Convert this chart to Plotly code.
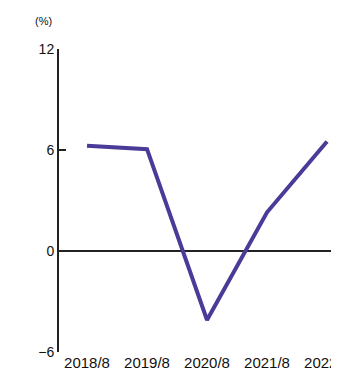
import plotly.graph_objects as go

# data
periods = ["2018/8", "2019/8", "2020/8", "2021/8", "2022/8"]
growth = [6.25, 6.05, -4.1, 2.3, 6.5]
y_ticks = [-6, 0, 6, 12]

xs = list(range(len(periods)))

# the page body adds an 8px margin, so everything is shifted by 8px;
# the plot is allowed to run past the right edge of the window, like the reference
W, H = 345, 363
L, T, B = 51, 41, 19
UNIT = 60  # px between periods

plot_w = W - L
plot_h = H - T - B
x_lo = -0.467
x_hi = x_lo + plot_w / UNIT

fig = go.Figure()
fig.add_trace(go.Scatter(
    x=xs, y=growth, mode="lines",
    line=dict(color="#4A3B98", width=4),
    hoverinfo="skip", showlegend=False))

fig.update_layout(
    width=W, height=H,
    margin=dict(l=L, r=0, t=T, b=B),
    paper_bgcolor="white", plot_bgcolor="white",
    font=dict(family="Liberation Sans, Arial, sans-serif", size=14, color="#111"),
    showlegend=False,
)
fig.update_xaxes(
    range=[x_lo, x_hi], tickvals=xs, ticktext=periods,
    tickfont=dict(size=15),
    showgrid=False, zeroline=False, showline=False, ticks="",
    ticklabeloverflow="allow",
    automargin=False, fixedrange=True)
fig.update_yaxes(
    range=[-6, 12], tickvals=y_ticks,
    showgrid=False, zeroline=True, zerolinecolor="#222", zerolinewidth=2,
    showline=True, linecolor="#222", linewidth=2,
    ticks="inside", ticklen=7, tickwidth=2, tickcolor="#222",
    automargin=False, fixedrange=True)

fig.add_annotation(
    text="(%)", xref="paper", yref="paper",
    x=(35 - L) / plot_w, y=1 + (T - 13) / plot_h,
    showarrow=False, font=dict(size=11), xanchor="center", yanchor="middle")

fig.write_html("out.html")
